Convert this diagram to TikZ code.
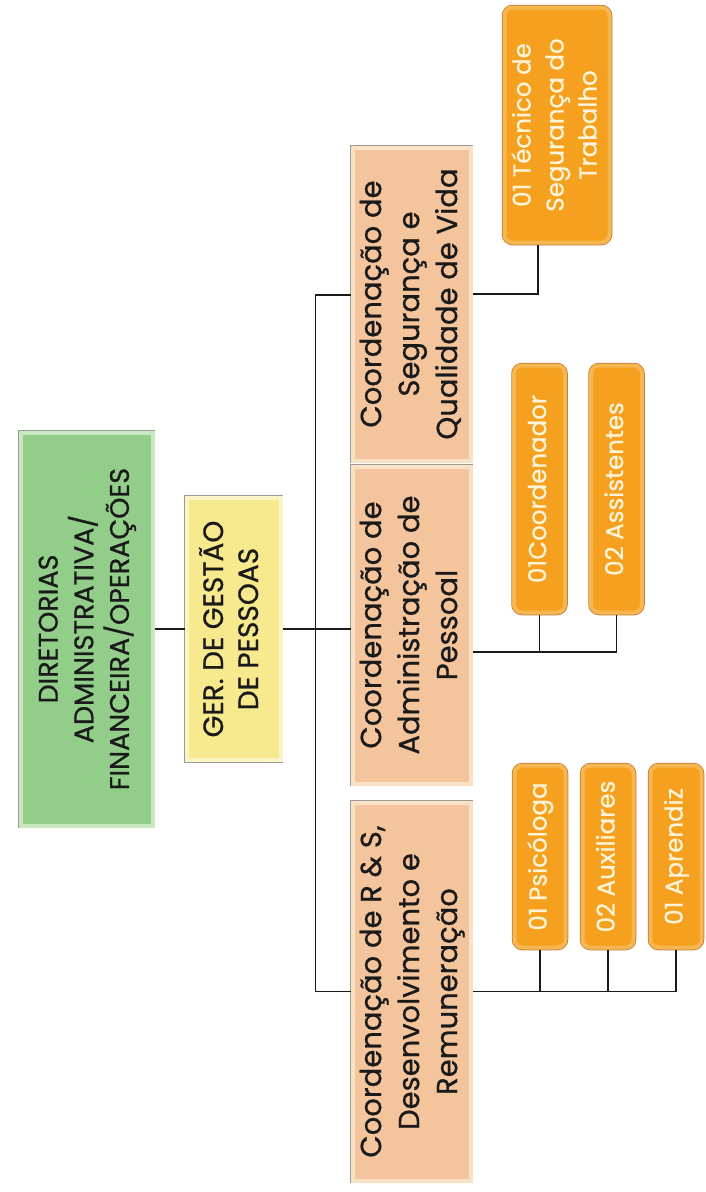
\documentclass[tikz,border=0pt]{standalone}
\usepackage{fontspec}
\setmainfont{Poppins}[FakeBold=0.7]
\usepackage{graphicx}
\usepackage{xcolor}
\usetikzlibrary{positioning}
\definecolor{ink}{HTML}{1A1A1A}
\definecolor{frame}{HTML}{9A9A9A}
\definecolor{dirfill}{HTML}{92CE89}
\definecolor{dirglow}{HTML}{C9E8C0}
\definecolor{gerfill}{HTML}{F7EA8E}
\definecolor{gerglow}{HTML}{FBF4C4}
\definecolor{coordfill}{HTML}{F4C49C}
\definecolor{coordglow}{HTML}{FBE2C6}
\definecolor{staff}{HTML}{F5A11F}
\definecolor{staffglow}{HTML}{F7B650}
\definecolor{staffedge}{HTML}{B77A3C}
\definecolor{stafftext}{HTML}{FFF4D8}
\newcommand{\vlabel}[1]{\rotatebox{90}{\begin{tabular}{@{}c@{}}#1\end{tabular}}}
\tikzset{
  every node/.style={text=ink,align=center,inner sep=0pt},
  glowframe/.style={line width=4pt,preaction={draw=#1,line width=5.5pt}},
  glowframe/.default=frame,
  dirbox/.style={glowframe,fill=dirfill,draw=dirglow,minimum width=132pt,minimum height=393pt,font=\fontsize{27}{34}\selectfont},
  gerbox/.style={glowframe,fill=gerfill,draw=gerglow,minimum width=94pt,minimum height=262pt,font=\fontsize{28}{35}\selectfont},
  coordbox/.style={glowframe,fill=coordfill,draw=coordglow,minimum width=118pt,font=\fontsize{29}{38}\selectfont},
  staffbox/.style={glowframe=staffedge,rounded corners=8pt,fill=staff,draw=staffglow,text=stafftext,minimum width=51pt,font=\fontsize{24.5}{33}\selectfont},
  link/.style={draw=ink,line width=1.3pt},
}
\begin{document}
\begin{tikzpicture}[x=1pt,y=1pt,node distance=30pt]
\useasboundingbox (0,0) rectangle (705,-1192);

\node[dirbox] (dir) at (86.5,-629) {\vlabel{DIRETORIAS\\ADMINISTRATIVA/\\FINANCEIRA/OPERAÇÕES}};
\node[gerbox,right=30pt of dir] (ger) {\vlabel{GER. DE GESTÃO\\DE PESSOAS}};

\node[coordbox,minimum height=313pt] (seg) at (411.5,-304) {\vlabel{Coordenação de\\Segurança e\\Qualidade de Vida}};
\node[coordbox,minimum height=317pt,below=2pt of seg] (adm) {\vlabel{Coordenação de\\Administração de\\Pessoal}};
\node[coordbox,minimum height=378pt,below=15pt of adm] (rs) {\vlabel{Coordenação de R \& S,\\Desenvolvimento e\\Remuneração}};

\node[staffbox,minimum width=105pt,minimum height=235pt] (tec) at (557,-125) {\vlabel{01 Técnico de\\Segurança do\\Trabalho}};
\node[staffbox,minimum height=247pt] (coord) at (539.5,-489) {\vlabel{01Coordenador}};
\node[staffbox,minimum height=247pt,right=22pt of coord] (assist) {\vlabel{02 Assistentes}};
\node[staffbox,minimum height=182pt] (psi) at (540,-856.5) {\vlabel{01 Psicóloga}};
\node[staffbox,minimum height=182pt,right=13pt of psi] (aux) {\vlabel{02 Auxiliares}};
\node[staffbox,minimum height=182pt,right=13pt of aux] (apr) {\vlabel{01 Aprendiz}};

\coordinate[right=33pt of ger.east] (bus);
\coordinate (admout) at ([yshift=-27pt]adm.east);

\draw[link] (dir.east) -- (ger.west);
\draw[link] (ger.east) -- (bus);
\draw[link] ([yshift=9pt]seg.west) -| (bus |- rs.west) -- (rs.west);
\draw[link] (bus) -- (bus -| adm.west);

\draw[link] ([yshift=10pt]seg.east) -| ([xshift=-19pt]tec.south);
\draw[link] (admout) -| (assist.south);
\draw[link] (coord.south) -- (coord.south |- admout);
\draw[link] (rs.east) -| (apr.south);
\draw[link] (psi.south) -- (psi.south |- rs.east);
\draw[link] (aux.south) -- (aux.south |- rs.east);

\end{tikzpicture}
\end{document}
